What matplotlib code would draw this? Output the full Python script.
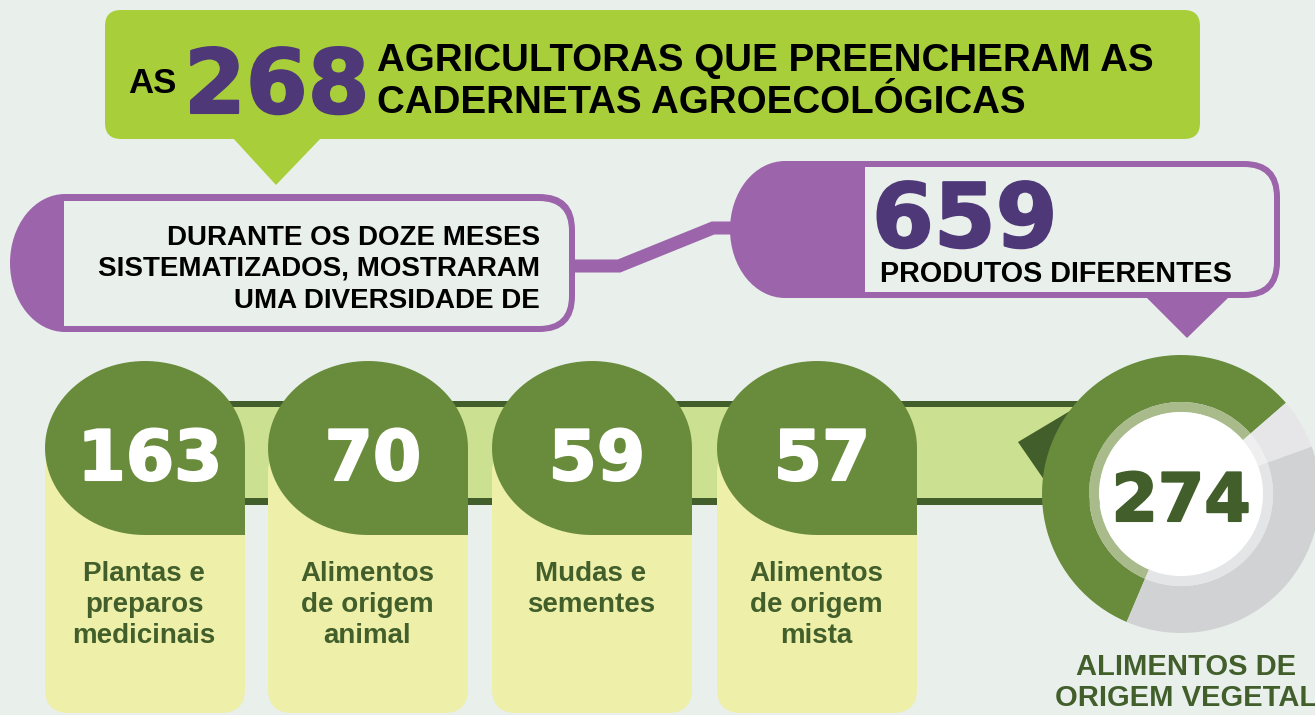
import numpy as np
import matplotlib
matplotlib.use("Agg")
import matplotlib.pyplot as plt
import matplotlib.patheffects as pe
from matplotlib.patches import FancyBboxPatch, Rectangle, Ellipse, Polygon, Wedge, Circle, PathPatch
from matplotlib.path import Path

# data
total_farmers = "268"
total_products = "659"
category_values = ["163", "70", "59", "57"]
category_labels = ["Plantas e\npreparos\nmedicinais",
                   "Alimentos\nde origem\nanimal",
                   "Mudas e\nsementes",
                   "Alimentos\nde origem\nmista"]
vegetal_value = "274"
vegetal_label = "ALIMENTOS DE\nORIGEM VEGETAL"
# ring shares in degrees, counterclockwise: vegetal, grey, light grey
ring_shares = [206, 133, 21]

# colours
BG = "#E9F0EC"
LIME = "#A8CF3A"
PURPLE = "#9C64AA"
DEEP_PURPLE = "#4E3878"
GREEN = "#698C3C"
DARK_GREEN = "#415E2B"
BAND = "#CBE191"
PILL = "#EEEFA8"

SANS = ["Liberation Sans", "DejaVu Sans"]
NUM = ["DejaVu Sans"]


def heavy(color, w=1.5):
    # thicken the number glyphs a little
    return [pe.withStroke(linewidth=w, foreground=color)]


fig = plt.figure(figsize=(13.15, 7.15), dpi=100)
fig.patch.set_facecolor(BG)
ax = fig.add_axes([0, 0, 1, 1])
ax.set_xlim(0, 1315)
ax.set_ylim(715, 0)
ax.axis("off")

# ---- top banner ----
ax.add_patch(FancyBboxPatch((105, 10), 1095, 129, boxstyle="round,pad=0,rounding_size=16",
                            fc=LIME, ec="none"))
ax.add_patch(Polygon([(232, 137), (322, 137), (276, 185)], closed=True, fc=LIME, ec="none"))
ax.text(128, 93, "AS", fontsize=25, fontweight="bold", family=SANS, color="black", va="baseline")
ax.text(184, 113, total_farmers, fontsize=64, fontweight="bold", family=NUM,
        color=DEEP_PURPLE, va="baseline", path_effects=heavy(DEEP_PURPLE))
ax.text(377, 71, "AGRICULTORAS QUE PREENCHERAM AS", fontsize=27.7, fontweight="bold",
        family=SANS, color="black", va="baseline")
ax.text(377, 113, "CADERNETAS AGROECOLÓGICAS", fontsize=27.7, fontweight="bold",
        family=SANS, color="black", va="baseline")

# ---- connector between the two purple boxes ----
ax.plot([560, 619, 713, 745], [266, 266, 228, 228], color=PURPLE, lw=9.4,
        solid_joinstyle="miter", solid_capstyle="butt", zorder=1)

# ---- left purple box ----
ax.add_patch(Ellipse((65, 263), 110, 138, fc=PURPLE, ec="none", zorder=2))
ax.add_patch(FancyBboxPatch((65, 194), 510, 138, boxstyle="round,pad=0,rounding_size=36",
                            fc=PURPLE, ec="none", zorder=2))
ax.add_patch(Rectangle((65, 194), 80, 138, fc=PURPLE, ec="none", zorder=2))
ax.add_patch(FancyBboxPatch((64, 201), 505, 125, boxstyle="round,pad=0,rounding_size=30",
                            fc=BG, ec="none", zorder=3))
ax.add_patch(Rectangle((64, 201), 60, 125, fc=BG, ec="none", zorder=3))
for txt, yb in zip(["DURANTE OS DOZE MESES", "SISTEMATIZADOS, MOSTRARAM", "UMA DIVERSIDADE DE"],
                   [245, 276, 308]):
    ax.text(540, yb, txt, fontsize=20, fontweight="bold", family=SANS, color="black",
            ha="right", va="baseline", zorder=4)

# ---- right purple box ----
ax.add_patch(Ellipse((785, 229.5), 110, 137, fc=PURPLE, ec="none", zorder=2))
ax.add_patch(FancyBboxPatch((785, 161), 495, 137, boxstyle="round,pad=0,rounding_size=36",
                            fc=PURPLE, ec="none", zorder=2))
ax.add_patch(Rectangle((785, 161), 90, 137, fc=PURPLE, ec="none", zorder=2))
ax.add_patch(Polygon([(1145, 296), (1230, 296), (1187, 338)], closed=True, fc=PURPLE,
                     ec="none", zorder=2))
ax.add_patch(FancyBboxPatch((865, 167), 409, 125, boxstyle="round,pad=0,rounding_size=30",
                            fc=BG, ec="none", zorder=3))
ax.add_patch(Rectangle((865, 167), 60, 125, fc=BG, ec="none", zorder=3))
ax.text(872, 247, total_products, fontsize=64, fontweight="bold", family=NUM,
        color=DEEP_PURPLE, va="baseline", zorder=4, path_effects=heavy(DEEP_PURPLE))
ax.text(880, 282, "PRODUTOS DIFERENTES", fontsize=20.7, fontweight="bold", family=SANS,
        color="black", va="baseline", zorder=4)

# ---- band ----
ax.add_patch(Rectangle((150, 401), 960, 104, fc=DARK_GREEN, ec="none", zorder=1))
ax.add_patch(Rectangle((150, 407), 960, 91, fc=BAND, ec="none", zorder=1))
ax.add_patch(Polygon([(1018, 442), (1075, 408), (1058, 500)], closed=True, fc=DARK_GREEN,
                     ec="none", zorder=2))

# ---- pills ----
pill_left = [45, 268, 492, 717]
pill_w = 200
rx, ry, cy = 100, 87, 448
t = np.linspace(0, 1.5 * np.pi, 80)
for x0, val, lab in zip(pill_left, category_values, category_labels):
    cx = x0 + pill_w / 2
    ax.add_patch(FancyBboxPatch((x0, cy), pill_w, 713 - cy,
                                boxstyle="round,pad=0,rounding_size=24",
                                fc=PILL, ec="none", zorder=3))
    # drop shape: ellipse with the lower-right corner squared
    arc = np.column_stack([cx - rx * np.sin(t), cy + ry * np.cos(t)])
    verts = np.vstack([[cx, cy + ry], arc, [cx + rx, cy], [cx + rx, cy + ry], [cx, cy + ry]])
    ax.add_patch(PathPatch(Path(verts, closed=True), fc=GREEN, ec="none", zorder=4))
    ax.text(cx + 5, 480, val, fontsize=50, fontweight="bold", family=NUM,
            color="white", ha="center", va="baseline", zorder=5, path_effects=heavy("white"))
    for i, ln in enumerate(lab.split("\n")):
        ax.text(cx - 1, 581 + 31 * i, ln, fontsize=20, fontweight="bold", family=SANS,
                color=DARK_GREEN, ha="center", va="baseline", zorder=5)

# ---- donut ----
dcx, dcy, R = 1181, 494, 139
ring_colors = [GREEN, "#D1D2D4", "#E6E6E8"]
inner_colors = ["#A9BA8B", "#E4E5E7", "#EFEFF0"]
a = 41  # visual angle where the vegetal share begins
for share, c_out, c_in in zip(ring_shares, ring_colors, inner_colors):
    # y axis is inverted, so a visual angle maps to its negative in data space
    ax.add_patch(Wedge((dcx, dcy), R, -(a + share), -a, width=R - 92, fc=c_out, ec="none", zorder=3))
    ax.add_patch(Wedge((dcx, dcy), 92, -(a + share), -a, width=10, fc=c_in, ec="none", zorder=3))
    a += share
ax.add_patch(Circle((dcx, dcy), 82, fc="white", ec="none", zorder=3))
ax.text(dcx, 521, vegetal_value, fontsize=48, fontweight="bold", family=NUM,
        color=DARK_GREEN, ha="center", va="baseline", zorder=4, path_effects=heavy(DARK_GREEN))
for i, ln in enumerate(vegetal_label.split("\n")):
    ax.text(1186, 675 + 31 * i, ln, fontsize=21, fontweight="bold", family=SANS,
            color=DARK_GREEN, ha="center", va="baseline", zorder=4)

fig.savefig("out.png", dpi=100, facecolor=BG)
